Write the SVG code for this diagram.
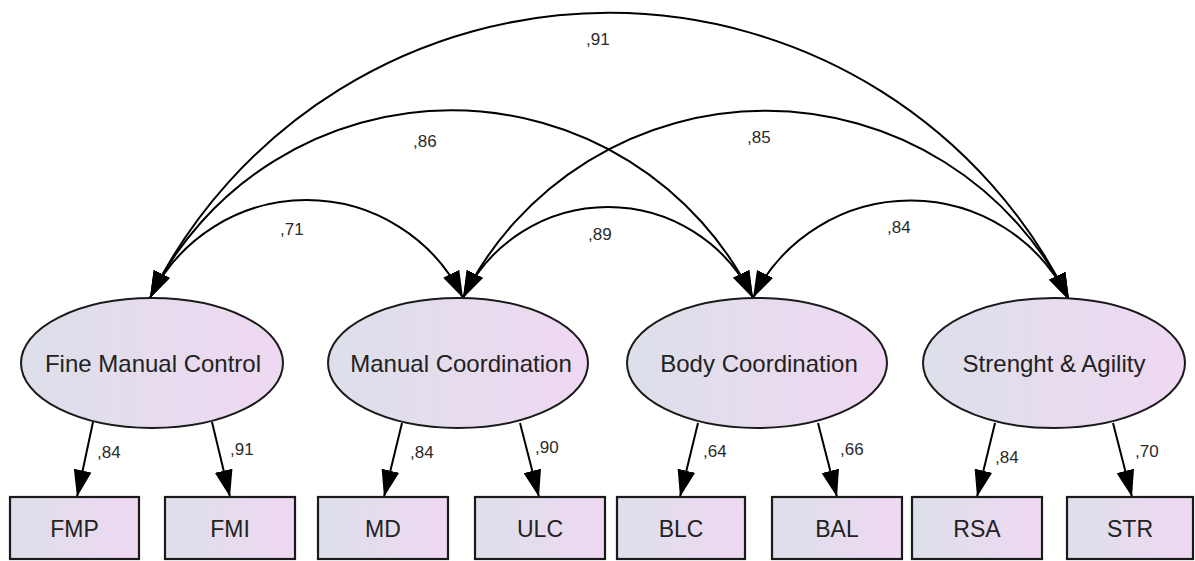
<svg xmlns="http://www.w3.org/2000/svg" width="1195" height="561" viewBox="0 0 1195 561">
  <defs>
    <linearGradient id="fillGrad" x1="0" y1="0" x2="1" y2="0">
      <stop offset="0" stop-color="#dcdfe9"/>
      <stop offset="0.5" stop-color="#e6dcee"/>
      <stop offset="1" stop-color="#efd8f2"/>
    </linearGradient>
    <marker id="arrow" markerUnits="userSpaceOnUse" markerWidth="28" markerHeight="18" refX="27" refY="9" orient="auto-start-reverse" viewBox="0 0 28 18">
      <path d="M0,0 L27,9 L0,18 z" fill="#000"/>
    </marker>
    <style>
      .latent { fill: url(#fillGrad); stroke: #1a1a1a; stroke-width: 2; }
      .observed { fill: url(#fillGrad); stroke: #1a1a1a; stroke-width: 2.2; }
      .lt { font-family: "Liberation Sans", Arial, sans-serif; font-size: 24px; fill: #222; text-anchor: middle; }
      .ot { font-family: "Liberation Sans", Arial, sans-serif; font-size: 23px; fill: #222; text-anchor: middle; }
      .coef { font-family: "Liberation Sans", Arial, sans-serif; font-size: 17px; fill: #2a2a2a; }
      .cov { fill: none; stroke: #000; stroke-width: 2; marker-start: url(#arrow); marker-end: url(#arrow); }
      .load { fill: none; stroke: #000; stroke-width: 2; marker-end: url(#arrow); }
    </style>
  </defs>
  <rect x="0" y="0" width="1195" height="561" fill="#ffffff"/>

  <g id="connectors">
    <!-- covariances -->
    <path class="cov" d="M150,298 A174,174 0 0 1 463,298"/>
    <path class="cov" d="M150,298 A336,336 0 0 1 753,298"/>
    <path class="cov" d="M150,298 A512,512 0 0 1 1069,300"/>
    <path class="cov" d="M463,298 A161,161 0 0 1 753,298"/>
    <path class="cov" d="M463,298 A338,338 0 0 1 1069,300"/>
    <path class="cov" d="M753,298 A176,176 0 0 1 1069,300"/>
    <!-- loadings -->
    <line class="load" x1="93" y1="422" x2="77" y2="497"/>
    <line class="load" x1="212" y1="422" x2="230" y2="497"/>
    <line class="load" x1="402" y1="423" x2="384" y2="497"/>
    <line class="load" x1="520" y1="423" x2="539" y2="497"/>
    <line class="load" x1="698" y1="423" x2="680" y2="497"/>
    <line class="load" x1="818" y1="423" x2="837" y2="497"/>
    <line class="load" x1="995" y1="423" x2="977" y2="497"/>
    <line class="load" x1="1113" y1="423" x2="1132" y2="497"/>
    <!-- coefficient labels -->
    <text class="coef" x="280" y="235">,71</text>
    <text class="coef" x="413" y="147">,86</text>
    <text class="coef" x="586" y="45">,91</text>
    <text class="coef" x="588" y="240">,89</text>
    <text class="coef" x="747" y="143">,85</text>
    <text class="coef" x="887" y="233">,84</text>
    <text class="coef" x="97" y="458">,84</text>
    <text class="coef" x="230" y="455">,91</text>
    <text class="coef" x="410" y="458">,84</text>
    <text class="coef" x="535" y="453">,90</text>
    <text class="coef" x="703" y="457">,64</text>
    <text class="coef" x="840" y="455">,66</text>
    <text class="coef" x="995" y="463">,84</text>
    <text class="coef" x="1135" y="457">,70</text>
  </g>

  <g id="fine-manual-control">
    <ellipse class="latent" cx="152" cy="363" rx="131" ry="65"/>
    <text class="lt" x="153" y="372">Fine Manual Control</text>
  </g>
  <g id="manual-coordination">
    <ellipse class="latent" cx="458" cy="363" rx="130" ry="65"/>
    <text class="lt" x="461" y="372">Manual Coordination</text>
  </g>
  <g id="body-coordination">
    <ellipse class="latent" cx="757" cy="363" rx="130" ry="65"/>
    <text class="lt" x="759" y="372">Body Coordination</text>
  </g>
  <g id="strenght-agility">
    <ellipse class="latent" cx="1054" cy="363" rx="131" ry="65"/>
    <text class="lt" x="1054" y="372">Strenght &amp; Agility</text>
  </g>

  <g id="FMP">
    <rect class="observed" x="10" y="497" width="129" height="62"/>
    <text class="ot" x="74.5" y="537">FMP</text>
  </g>
  <g id="FMI">
    <rect class="observed" x="165" y="497" width="130" height="62"/>
    <text class="ot" x="230" y="537">FMI</text>
  </g>
  <g id="MD">
    <rect class="observed" x="318" y="497" width="130" height="62"/>
    <text class="ot" x="383" y="537">MD</text>
  </g>
  <g id="ULC">
    <rect class="observed" x="475" y="497" width="130" height="62"/>
    <text class="ot" x="540" y="537">ULC</text>
  </g>
  <g id="BLC">
    <rect class="observed" x="617" y="497" width="128" height="62"/>
    <text class="ot" x="681" y="537">BLC</text>
  </g>
  <g id="BAL">
    <rect class="observed" x="772" y="497" width="130" height="62"/>
    <text class="ot" x="837" y="537">BAL</text>
  </g>
  <g id="RSA">
    <rect class="observed" x="912" y="497" width="130" height="62"/>
    <text class="ot" x="977" y="537">RSA</text>
  </g>
  <g id="STR">
    <rect class="observed" x="1067" y="497" width="126" height="62"/>
    <text class="ot" x="1130" y="537">STR</text>
  </g>
</svg>
